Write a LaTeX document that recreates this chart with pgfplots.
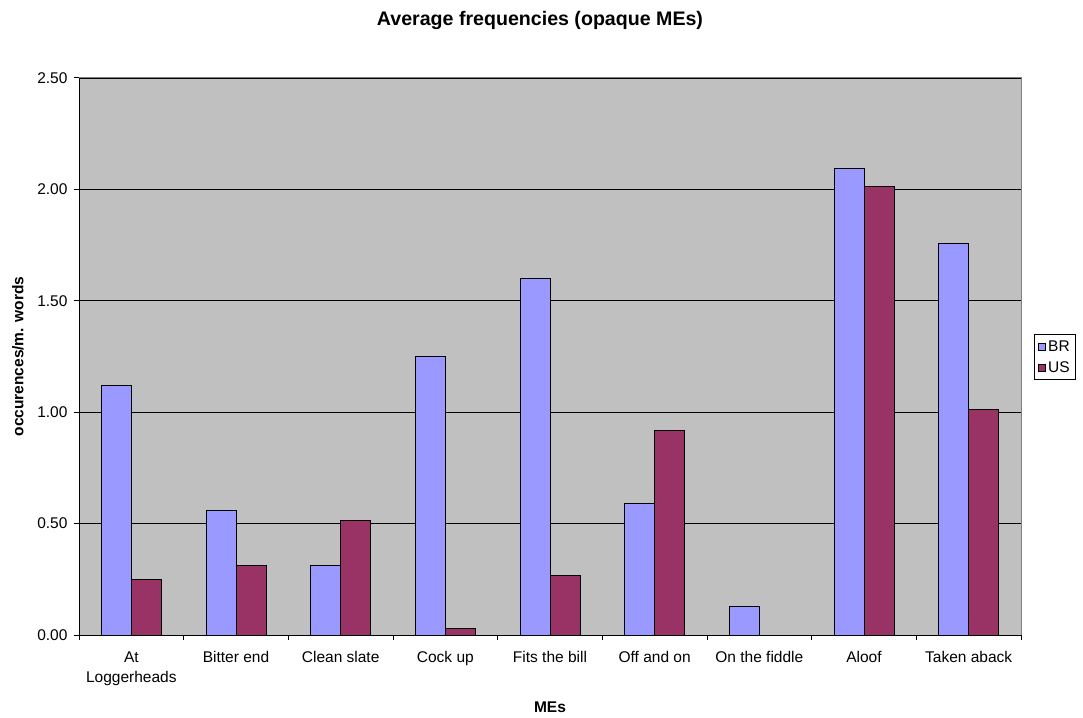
\documentclass[border=0pt]{standalone}
\usepackage{pgfplots}
\pgfplotsset{compat=1.18}
\usepackage{fontspec}
\setmainfont{Liberation Sans}
\definecolor{brblue}{HTML}{9999FF}
\definecolor{usplum}{HTML}{993366}
\definecolor{plotgray}{HTML}{C0C0C0}
\definecolor{framegray}{HTML}{808080}

\begin{document}
\begin{tikzpicture}[x=1pt,y=1pt]
\useasboundingbox (0,0) rectangle (1083,717);
\begin{axis}[
  at={(79pt,82pt)}, anchor=south west,
  scale only axis, width=942pt, height=557pt,
  ybar=0pt, bar width=30pt,
  xmin=-0.5, xmax=8.5, ymin=0, ymax=2.5,
  axis background/.style={fill=plotgray, draw=framegray, line width=1pt},
  axis x line*=bottom, axis y line*=left,
  axis line style={black, line width=1pt},
  tick align=outside,
  xtick={0,...,8},
  xticklabels={{At\\Loggerheads}, Bitter end, Clean slate, Cock up, Fits the bill, Off and on, On the fiddle, Aloof, Taken aback},
  major x tick style={draw=none},
  minor xtick={-0.5,0.5,...,8.5},
  minor tick length=5pt, major tick length=5pt,
  every tick/.style={black, line width=1pt},
  ytick={0,0.5,...,2.5},
  ymajorgrids, grid style={black, line width=0.8pt},
  /pgf/number format/.cd, fixed, fixed zerofill, precision=2, assume math mode=true,
  /pgfplots/.cd,
  tick label style={font=\fontsize{15.5}{20}\selectfont},
  xticklabel style={align=center, yshift=-8pt},
  yticklabel style={xshift=-3pt},
  xlabel={MEs}, ylabel={occurences/m. words},
  label style={font=\bfseries\fontsize{15.5}{19}\selectfont},
  xlabel style={at={(axis description cs:0.5,-0.1293)}, anchor=center},
  ylabel style={at={(axis description cs:-0.0648,0.5)}, anchor=center, rotate=0},
  legend style={at={(axis description cs:1.0138,0.5404)}, anchor=north west,
    draw=black, fill=white, line width=0.8pt, font=\fontsize{15.5}{19}\selectfont,
    row sep=5pt, inner xsep=4pt, inner ysep=4pt},
  legend cell align=left,
]
\addplot[fill=brblue, draw=black, line width=1pt,
  legend image code/.code={\draw[fill=brblue, draw=black, line width=0.8pt] (0pt,-3.5pt) rectangle (7pt,3.5pt);}]
  coordinates {(0,1.122) (1,0.557) (2,0.314) (3,1.248) (4,1.598) (5,0.588) (6,0.126) (7,2.092) (8,1.755)};
\addplot[fill=usplum, draw=black, line width=1pt,
  legend image code/.code={\draw[fill=usplum, draw=black, line width=0.8pt] (0pt,-3.5pt) rectangle (7pt,3.5pt);}]
  coordinates {(0,0.247) (1,0.314) (2,0.516) (3,0.031) (4,0.265) (5,0.916) (6,0) (7,2.015) (8,1.014)};
\legend{BR, US}
\end{axis}
\node[font=\bfseries\fontsize{19.6}{23}\selectfont] at (540,697) {Average frequencies (opaque MEs)};
\end{tikzpicture}
\end{document}
